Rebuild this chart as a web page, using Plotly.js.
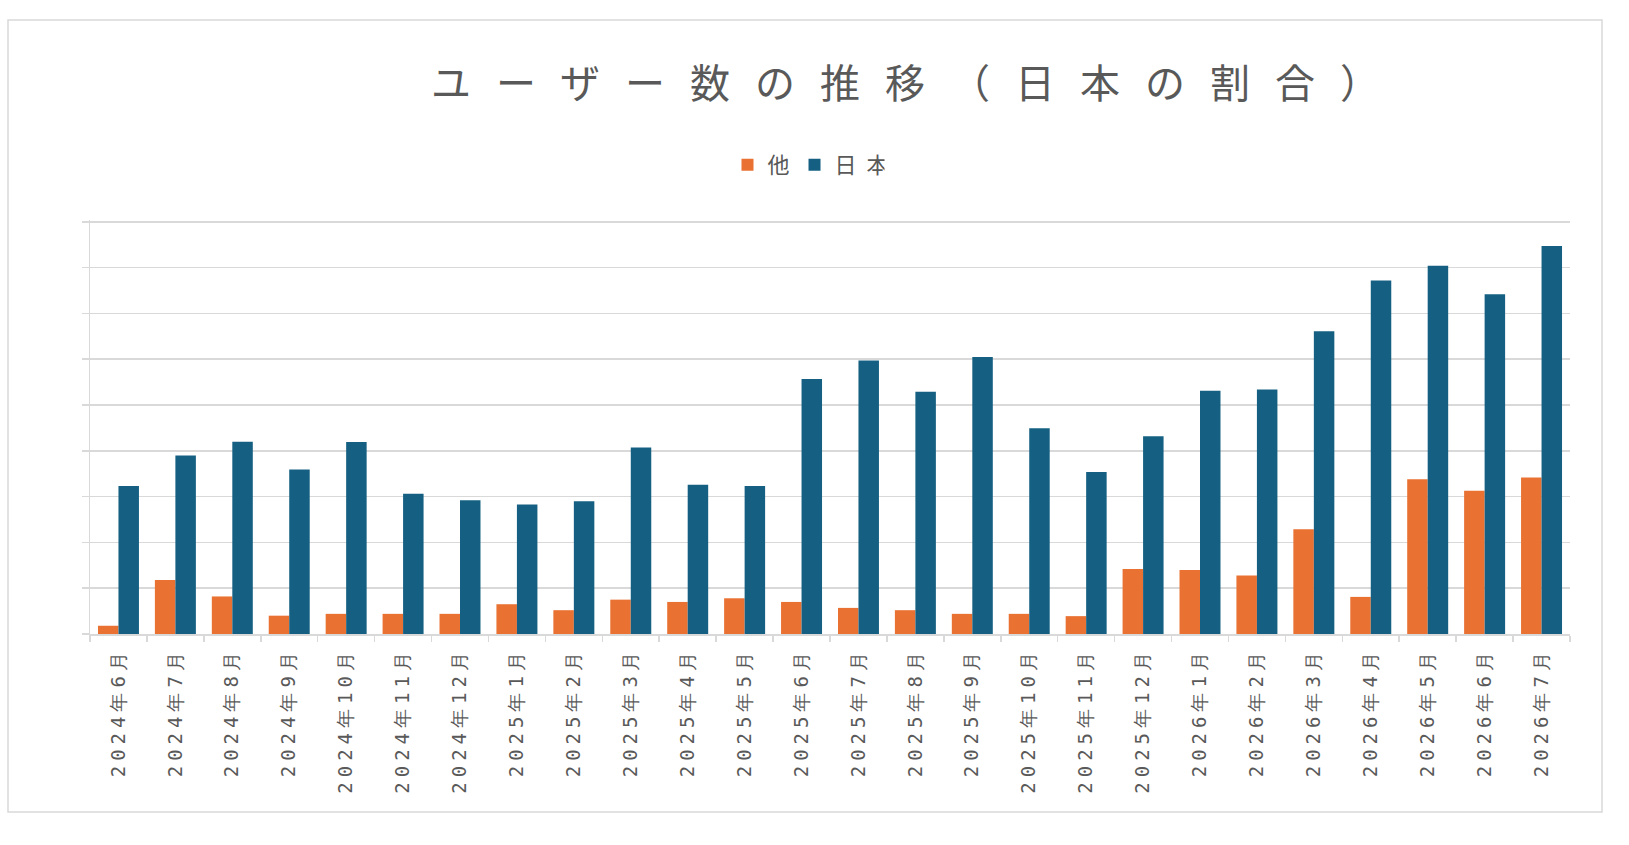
<!DOCTYPE html>
<html>
<head>
<meta charset="utf-8">
<script src="https://cdn.plot.ly/plotly-3.0.1.min.js"></script>
<style>
  body { margin: 0; background: #fff; }
  .gtitle { letter-spacing: 25px; }
  .legend .traces:nth-of-type(2) .legendtext { letter-spacing: 10px; }
  .xtick text { letter-spacing: 5px; }
</style>
</head>
<body>
<div id="chart"></div>
<script>
// categories (month labels)
var months = ["2024年6月", "2024年7月", "2024年8月", "2024年9月", "2024年10月", "2024年11月", "2024年12月",
  "2025年1月", "2025年2月", "2025年3月", "2025年4月", "2025年5月", "2025年6月", "2025年7月",
  "2025年8月", "2025年9月", "2025年10月", "2025年11月", "2025年12月",
  "2026年1月", "2026年2月", "2026年3月", "2026年4月", "2026年5月", "2026年6月", "2026年7月"];

// in gridline units (no scale is printed)
var other = [0.18, 1.18, 0.82, 0.40, 0.44, 0.44, 0.44, 0.65, 0.52, 0.75, 0.70, 0.78, 0.70,
  0.57, 0.52, 0.44, 0.44, 0.39, 1.42, 1.40, 1.28, 2.29, 0.81, 3.38, 3.13, 3.42];
var japan = [3.23, 3.90, 4.20, 3.59, 4.19, 3.06, 2.92, 2.83, 2.90, 4.07, 3.26, 3.23, 5.57,
  5.97, 5.29, 6.05, 4.49, 3.54, 4.32, 5.31, 5.34, 6.61, 7.72, 8.04, 7.42, 8.47];

var W = 1629, H = 845;
var mL = 90, mR = 59, mT = 220, mB = 211;
var plotW = W - mL - mR, plotH = H - mT - mB;
function px(x) { return (x - mL) / plotW; }
function py(y) { return (H - mB - y) / plotH; }

var textGrey = '#595959';
var gridGrey = '#d9d9d9';

var trOther = {
  x: months,
  y: other,
  name: '他',
  type: 'bar',
  marker: { color: '#E97132' },
  hoverinfo: 'x+y+name'
};

var trJapan = {
  x: months,
  y: japan,
  name: '日本',
  type: 'bar',
  marker: { color: '#156082' },
  hoverinfo: 'x+y+name'
};

var layout = {
  width: W,
  height: H,
  margin: { l: mL, r: mR, t: mT, b: mB },
  paper_bgcolor: '#fff',
  plot_bgcolor: '#fff',
  barmode: 'group',
  bargap: 0.28,
  bargroupgap: 0,
  title: {
    text: 'ユーザー数の推移（日本の割合）',
    font: { family: 'Noto Sans CJK JP', size: 40, color: textGrey },
    xref: 'container',
    yref: 'container',
    x: 918 / W,
    xanchor: 'center',
    y: 1 - 84 / H,
    yanchor: 'middle'
  },
  showlegend: true,
  legend: {
    orientation: 'h',
    x: px(806),
    xanchor: 'center',
    yref: 'container',
    y: 1 - 165 / H,
    yanchor: 'middle',
    font: { family: 'Noto Sans CJK JP', size: 22, color: textGrey },
    itemwidth: 30
  },
  xaxis: {
    type: 'category',
    tickangle: -90,
    tickfont: { family: 'DejaVu Sans Mono', size: 19, color: textGrey },
    showline: true,
    linecolor: gridGrey,
    linewidth: 1.5,
    ticks: 'outside',
    tickson: 'boundaries',
    ticklen: 6,
    tickcolor: gridGrey,
    tickwidth: 1.5,
    ticklabelstandoff: 4,
    showgrid: false,
    automargin: false,
    fixedrange: true
  },
  yaxis: {
    // a little headroom so the top gridline at 9 is not clipped
    range: [0, 9.04],
    tick0: 0,
    dtick: 1,
    showticklabels: false,
    showgrid: true,
    gridcolor: gridGrey,
    gridwidth: 1.5,
    zeroline: false,
    showline: true,
    linecolor: gridGrey,
    linewidth: 1.5,
    ticks: 'outside',
    ticklen: 7,
    tickcolor: gridGrey,
    tickwidth: 1.5,
    automargin: false,
    fixedrange: true
  },
  shapes: [{
    type: 'rect',
    xref: 'paper',
    yref: 'paper',
    x0: px(8), x1: px(1602),
    y0: py(812), y1: py(20),
    line: { color: gridGrey, width: 1.5 },
    fillcolor: 'rgba(0,0,0,0)',
    layer: 'below'
  }]
};

Plotly.newPlot('chart', [trOther, trJapan], layout, { displayModeBar: false, staticPlot: true });
</script>
</body>
</html>
